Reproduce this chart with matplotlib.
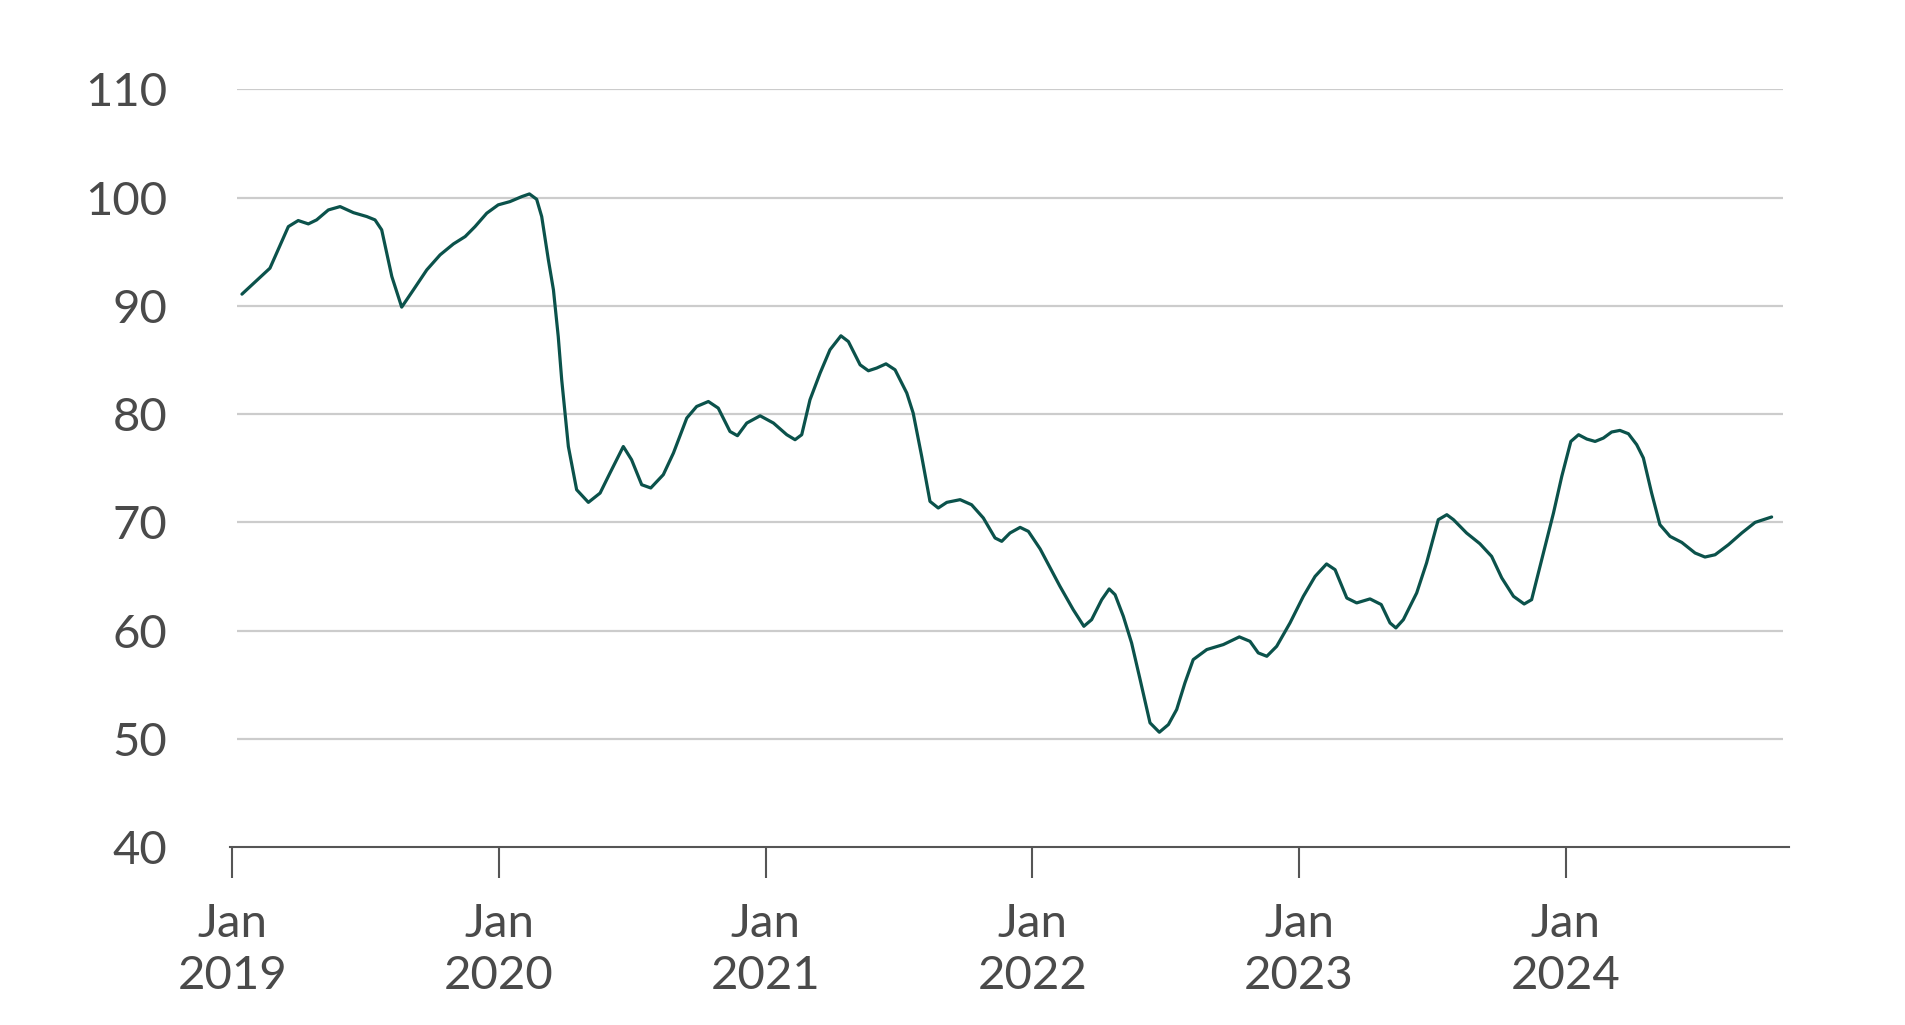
"""
Index line chart, Jan 2019 - Oct 2024
"""
import matplotlib
matplotlib.use("Agg")
import matplotlib.pyplot as plt

# Data: time in years since Jan 2019, index value
t = [0.036, 0.141, 0.21, 0.247, 0.285, 0.316, 0.36, 0.404, 0.454, 0.504,
     0.535, 0.56, 0.598, 0.635, 0.679, 0.729, 0.779, 0.829, 0.873, 0.91,
     0.954, 0.997, 1.041, 1.085, 1.114, 1.141, 1.16, 1.185, 1.204, 1.222,
     1.235, 1.26, 1.291, 1.335, 1.379, 1.416, 1.466, 1.497, 1.535, 1.569,
     1.616, 1.654, 1.704, 1.741, 1.785, 1.822, 1.866, 1.894, 1.929, 1.979,
     2.029, 2.079, 2.11, 2.135, 2.166, 2.204, 2.241, 2.282, 2.31, 2.354,
     2.385, 2.416, 2.451, 2.485, 2.529, 2.553, 2.585, 2.616, 2.647, 2.679,
     2.729, 2.772, 2.816, 2.86, 2.885, 2.916, 2.954, 2.985, 3.029, 3.103,
     3.153, 3.193, 3.222, 3.26, 3.288, 3.31, 3.341, 3.372, 3.404, 3.441,
     3.476, 3.51, 3.541, 3.572, 3.603, 3.654, 3.716, 3.776, 3.816, 3.847,
     3.879, 3.916, 3.966, 4.016, 4.06, 4.103, 4.135, 4.179, 4.216, 4.266,
     4.308, 4.341, 4.363, 4.391, 4.441, 4.478, 4.522, 4.554, 4.579, 4.628,
     4.678, 4.722, 4.76, 4.804, 4.844, 4.872, 4.91, 4.954, 4.985, 5.019,
     5.048, 5.079, 5.11, 5.141, 5.172, 5.203, 5.235, 5.266, 5.291, 5.322,
     5.353, 5.391, 5.435, 5.485, 5.522, 5.56, 5.61, 5.66, 5.71, 5.772]
values = [91.08, 93.48, 97.32, 97.88, 97.57, 97.94, 98.86, 99.17, 98.61, 98.25,
          97.94, 97.02, 92.71, 89.88, 91.48, 93.32, 94.71, 95.72, 96.4, 97.32,
          98.56, 99.33, 99.63, 100.09, 100.34, 99.85, 98.25, 94.25, 91.48, 87.17,
          83.17, 77.0, 73.01, 71.84, 72.7, 74.55, 77.0, 75.78, 73.47, 73.17,
          74.4, 76.4, 79.63, 80.7, 81.16, 80.55, 78.39, 78.0, 79.17, 79.84,
          79.17, 78.09, 77.63, 78.09, 81.32, 83.79, 85.94, 87.23, 86.7, 84.55,
          84.0, 84.25, 84.64, 84.09, 81.94, 80.09, 76.08, 71.93, 71.32, 71.84,
          72.09, 71.62, 70.4, 68.55, 68.24, 69.01, 69.53, 69.16, 67.54, 64.1,
          61.93, 60.39, 61.0, 62.85, 63.84, 63.31, 61.31, 58.85, 55.46, 51.47,
          50.6, 51.31, 52.7, 55.16, 57.31, 58.24, 58.7, 59.41, 59.0, 57.93,
          57.62, 58.54, 60.7, 63.16, 65.0, 66.15, 65.62, 63.0, 62.55, 62.92,
          62.4, 60.7, 60.24, 61.0, 63.47, 66.24, 70.24, 70.7, 70.24, 69.01,
          68.02, 66.85, 64.86, 63.16, 62.45, 62.85, 66.55, 70.86, 74.24, 77.47,
          78.09, 77.69, 77.47, 77.78, 78.34, 78.49, 78.18, 77.17, 75.94, 72.7,
          69.78, 68.7, 68.14, 67.16, 66.79, 67.0, 67.93, 69.01, 69.99, 70.49]

years = [2019, 2020, 2021, 2022, 2023, 2024]
x_labels = ["Jan\n%d" % y for y in years]
y_ticks = [40, 50, 60, 70, 80, 90, 100, 110]

line_color = "#0b524b"
text_color = "#4a4a4a"
grid_color = "#cccccc"
axis_color = "#555555"

plt.rcParams['font.family'] = ['Lato', 'DejaVu Sans']

fig = plt.figure(figsize=(19.06, 10.25), dpi=100)
ax = fig.add_axes([0.1207, 0.1737, 0.8179, 0.7391])

xs = [2019 + v for v in t]

# gridlines, slightly inset from the axis ends
for yv in y_ticks[1:]:
    ax.plot([0.0045, 0.996], [yv, yv], color=grid_color, lw=1.6,
            transform=ax.get_yaxis_transform(), zorder=1, solid_capstyle='butt')

ax.plot(xs, values, color=line_color, lw=2.3, zorder=3,
        solid_joinstyle='round', solid_capstyle='round')

ax.set_xlim(2019 - 0.0086, 2019 + 5.837)
ax.set_ylim(40, 110)

ax.set_xticks(years)
ax.set_xticklabels(x_labels, linespacing=1.32)
ax.set_yticks(y_ticks)
ax.set_yticklabels([str(v) for v in y_ticks])

ax.tick_params(axis='x', length=22, width=1.5, color=axis_color, pad=18,
               labelsize=34, labelcolor=text_color)
ax.tick_params(axis='y', length=0, pad=45, labelsize=34, labelcolor=text_color)

for s in ['top', 'right', 'left']:
    ax.spines[s].set_visible(False)
ax.spines['bottom'].set_color(axis_color)
ax.spines['bottom'].set_linewidth(1.5)

fig.savefig("out.png", dpi=100)
